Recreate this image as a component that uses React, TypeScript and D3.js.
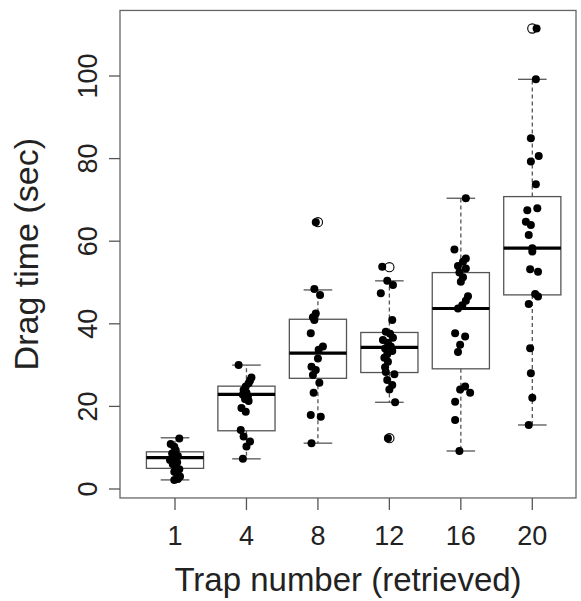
import React from "react";
import * as d3 from "d3";

const categories = ["1", "4", "8", "12", "16", "20"];
const yTicks = [0, 20, 40, 60, 80, 100];

// box statistics
const whiskerLow = [2.2, 7.3, 11.1, 21.0, 9.2, 15.5];
const q1 = [5.0, 14.1, 26.8, 28.2, 29.1, 47.0];
const median = [7.6, 22.9, 32.9, 34.3, 43.7, 58.3];
const q3 = [9.0, 24.9, 41.1, 37.9, 52.4, 70.8];
const whiskerHigh = [12.4, 30.0, 48.2, 50.4, 70.4, 99.2];
const outliers: number[][] = [[], [], [64.6], [53.7, 12.3], [], [111.5]];

// jittered observations: values and horizontal jitter (category units)
const values1 = [12.2, 10.9, 10.2, 9.4, 8.6, 8.0, 7.6, 7.0, 6.5, 6.0, 5.4, 4.8, 4.2, 3.6, 3.0, 2.4, 2.2];
const jitter1 = [0.06, -0.06, -0.01, 0.01, -0.04, 0.04, 0, -0.07, 0.03, -0.03, 0.01, 0.06, -0.01, 0.03, 0.07, 0.04, -0.01];
const values4 = [30.0, 27.0, 26.3, 25.6, 24.8, 24.0, 23.3, 22.8, 22.4, 21.8, 21.3, 19.6, 18.7, 14.3, 12.7, 11.5, 10.3, 7.3];
const jitter4 = [-0.11, 0.07, 0.05, 0.03, -0.01, -0.04, 0, -0.05, 0.02, -0.02, 0.03, -0.07, -0.01, -0.08, -0.04, 0.05, 0, -0.05];
const values8 = [64.6, 48.4, 47.0, 42.5, 41.6, 40.9, 37.7, 34.5, 33.7, 31.6, 29.6, 28.8, 27.6, 25.7, 23.3, 17.9, 17.5, 11.1];
const jitter8 = [-0.03, -0.05, 0.03, -0.03, -0.07, -0.05, -0.1, 0.07, 0.01, 0, -0.09, -0.03, -0.07, 0.02, -0.06, -0.1, 0.04, -0.09];
const values12 = [53.8, 50.4, 49.4, 47.4, 40.9, 38.1, 37.6, 36.6, 36.1, 35.4, 34.5, 34.0, 33.4, 32.6, 31.8, 30.8, 29.5, 28.3, 27.8, 26.4, 25.2, 24.1, 21.0, 12.3];
const jitter12 = [-0.1, -0.03, 0.05, -0.12, 0.04, -0.05, 0.01, 0.05, -0.09, -0.02, 0.02, -0.06, 0.04, -0.03, -0.07, -0.02, -0.06, -0.05, 0.07, -0.03, 0.04, 0, 0.08, -0.02];
const values16 = [70.4, 58.0, 55.8, 55.0, 54.0, 53.4, 52.4, 51.3, 50.2, 46.7, 45.6, 44.5, 43.7, 37.7, 36.9, 34.9, 33.2, 24.8, 24.1, 23.3, 21.1, 16.7, 9.2];
const jitter16 = [0.07, -0.09, 0.07, 0.03, -0.04, 0.07, -0.02, 0.03, 0, 0.1, 0.07, 0.02, -0.04, -0.08, 0.06, -0.01, -0.04, 0.06, -0.01, 0.13, -0.08, -0.08, -0.02];
const values20 = [111.5, 99.2, 84.9, 80.6, 79.3, 73.8, 68.0, 67.5, 64.7, 63.9, 61.5, 58.3, 57.5, 53.2, 52.6, 47.2, 46.6, 44.8, 34.1, 28.0, 22.1, 15.5];
const jitter20 = [0.06, 0.05, -0.02, 0.09, -0.02, 0.05, 0.07, -0.07, -0.09, -0.02, -0.05, 0, 0, -0.03, 0.08, 0.04, 0.08, -0.05, -0.03, -0.02, 0, -0.05];

const allValues = [values1, values4, values8, values12, values16, values20];
const allJitter = [jitter1, jitter4, jitter8, jitter12, jitter16, jitter20];

const W = 581;
const H = 601;
const left = 120;
const right = 576;
const FONT = "'Liberation Sans', Arial, Helvetica, sans-serif";

export default function App() {
  const flat = allValues.flat();
  const lo = d3.min(flat) as number;
  const hi = d3.max(flat) as number;
  const ext = (hi - lo) * 0.04;

  const y = d3.scaleLinear().domain([0, 100]).range([489, 76]);
  const top = y(hi + ext);
  const bottom = y(lo - ext);

  const x = d3.scalePoint<string>().domain(categories).range([175, 532.3]);
  const step = x.step();
  const halfBox = step * 0.4;
  const capHalf = halfBox / 2;

  const boxStroke = "#555";

  return (
    <svg width={W} height={H} style={{ position: "absolute", left: 0, top: 0, background: "#fff" }}>
      <rect x={0} y={0} width={W} height={H} fill="#fff" />
      {categories.map((c, i) => {
        const cx = x(c) as number;
        return (
          <g key={c}>
            <line x1={cx} x2={cx} y1={y(q3[i])} y2={y(whiskerHigh[i])} stroke={boxStroke} strokeWidth={1.3} strokeDasharray="4,3" />
            <line x1={cx} x2={cx} y1={y(q1[i])} y2={y(whiskerLow[i])} stroke={boxStroke} strokeWidth={1.3} strokeDasharray="4,3" />
            <line x1={cx - capHalf} x2={cx + capHalf} y1={y(whiskerHigh[i])} y2={y(whiskerHigh[i])} stroke={boxStroke} strokeWidth={1.3} />
            <line x1={cx - capHalf} x2={cx + capHalf} y1={y(whiskerLow[i])} y2={y(whiskerLow[i])} stroke={boxStroke} strokeWidth={1.3} />
            <rect x={cx - halfBox} y={y(q3[i])} width={halfBox * 2} height={y(q1[i]) - y(q3[i])} fill="#fff" stroke={boxStroke} strokeWidth={1.3} />
            <line x1={cx - halfBox} x2={cx + halfBox} y1={y(median[i])} y2={y(median[i])} stroke="#000" strokeWidth={3.2} />
            {outliers[i].map((v, k) => (
              <circle key={k} cx={cx} cy={y(v)} r={4.6} fill="none" stroke="#000" strokeWidth={1.1} />
            ))}
          </g>
        );
      })}
      {categories.map((c, i) => {
        const cx = x(c) as number;
        return (
          <g key={"p" + c}>
            {allValues[i].map((v, k) => (
              <circle key={k} cx={cx + allJitter[i][k] * step} cy={y(v)} r={4} fill="#000" />
            ))}
          </g>
        );
      })}
      <rect x={left} y={top} width={right - left} height={bottom - top} fill="none" stroke="#666" strokeWidth={1.3} />
      {yTicks.map((t) => (
        <g key={t}>
          <line x1={left - 11} x2={left} y1={y(t)} y2={y(t)} stroke="#555" strokeWidth={1.3} />
          <text transform={`translate(97,${y(t)}) rotate(-90)`} textAnchor="middle" fontFamily={FONT} fontSize={27} fill="#222">
            {t}
          </text>
        </g>
      ))}
      {categories.map((c) => (
        <g key={"t" + c}>
          <line x1={x(c) as number} x2={x(c) as number} y1={bottom} y2={bottom + 12} stroke="#555" strokeWidth={1.3} />
          <text x={x(c) as number} y={545} textAnchor="middle" fontFamily={FONT} fontSize={27} fill="#222">
            {c}
          </text>
        </g>
      ))}
      <text x={(left + right) / 2} y={591} textAnchor="middle" fontFamily={FONT} fontSize={33} fill="#222">
        Trap number (retrieved)
      </text>
      <text transform={`translate(38,${(top + bottom) / 2}) rotate(-90)`} textAnchor="middle" fontFamily={FONT} fontSize={34} fill="#222">
        Drag time (sec)
      </text>
    </svg>
  );
}
